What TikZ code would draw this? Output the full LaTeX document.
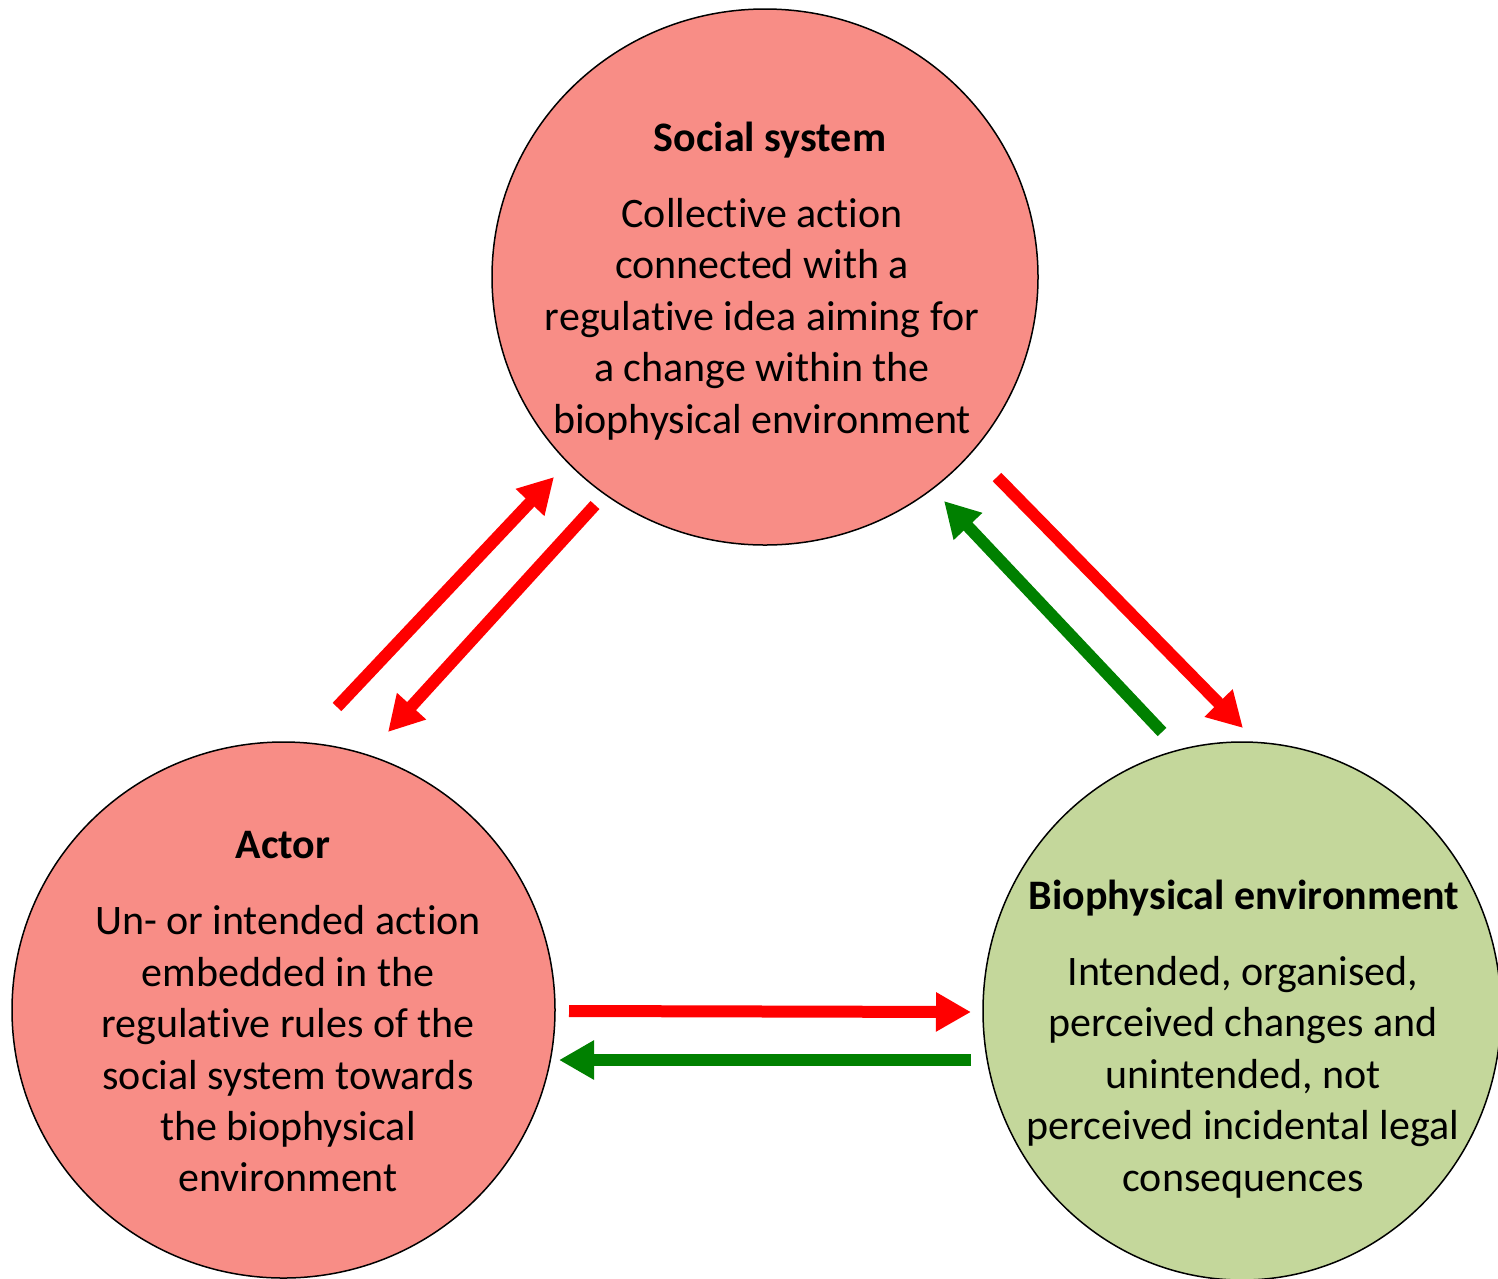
\documentclass[tikz,border=0pt]{standalone}
\usepackage{fontspec}
\setmainfont{Carlito}[Ligatures=NoCommon]
\usetikzlibrary{shapes.geometric,arrows.meta}
\definecolor{pinkfill}{RGB}{248,141,134}
\definecolor{greenfill}{RGB}{196,215,155}
\definecolor{arrred}{RGB}{255,0,0}
\definecolor{arrgreen}{RGB}{0,128,0}
\tikzset{
  circ/.style={draw=black, line width=1.5pt, ellipse, inner sep=0pt},
  ttl/.style={font=\fontsize{42}{51.4}\selectfont\bfseries, inner sep=0pt},
  body/.style={font=\fontsize{42}{51.4}\selectfont, align=center, inner sep=0pt},
  bigarrow/.style={line width=12pt, -{Triangle[length=35pt,width=37pt]}},
}
\begin{document}
\begin{tikzpicture}[x=1pt,y=-1pt]
\useasboundingbox (0,0) rectangle (1498,1278);
% circles
\node[circ, fill=pinkfill, minimum width=546pt, minimum height=536pt] (social) at (765,277) {};
\node[circ, fill=pinkfill, minimum width=543pt, minimum height=536pt] (actor) at (283.5,1010) {};
\node[circ, fill=greenfill, minimum width=518pt, minimum height=538pt] (bio) at (1242,1011) {};
% texts
\node[ttl] (socialT) at (770,140) {Social system};
\node[body] (socialB) at (762,319) {Collective action\\connected with a\\regulative idea aiming for\\a change within the\\biophysical environment};
\node[ttl] (actorT) at (283,845) {Actor};
\node[body] (actorB) at (288,1049) {Un- or intended action\\embedded in the\\regulative rules of the\\social system towards\\the biophysical\\environment};
\node[ttl] (bioT) at (1244,898) {Biophysical environment};
\node[body] (bioB) at (1243,1077) {Intended, organised,\\perceived changes and\\unintended, not\\perceived incidental legal\\consequences};
% arrow end points
\coordinate (a1s) at (337,707);
\coordinate (a1e) at (554,477);
\coordinate (a2s) at (595,505);
\coordinate (a2e) at (388,732);
\coordinate (a3s) at (997,477);
\coordinate (a3e) at (1243,728);
\coordinate (a4s) at (1162,732);
\coordinate (a4e) at (944,501);
\coordinate (a5s) at (569,1011);
\coordinate (a5e) at (971,1012);
\coordinate (a6s) at (971,1060);
\coordinate (a6e) at (559,1060);
% arrows
\draw[bigarrow, arrred] (a1s) -- (a1e);
\draw[bigarrow, arrred] (a2s) -- (a2e);
\draw[bigarrow, arrred] (a3s) -- (a3e);
\draw[bigarrow, arrgreen] (a4s) -- (a4e);
\draw[bigarrow, arrred] (a5s) -- (a5e);
\draw[bigarrow, arrgreen] (a6s) -- (a6e);
\end{tikzpicture}
\end{document}
